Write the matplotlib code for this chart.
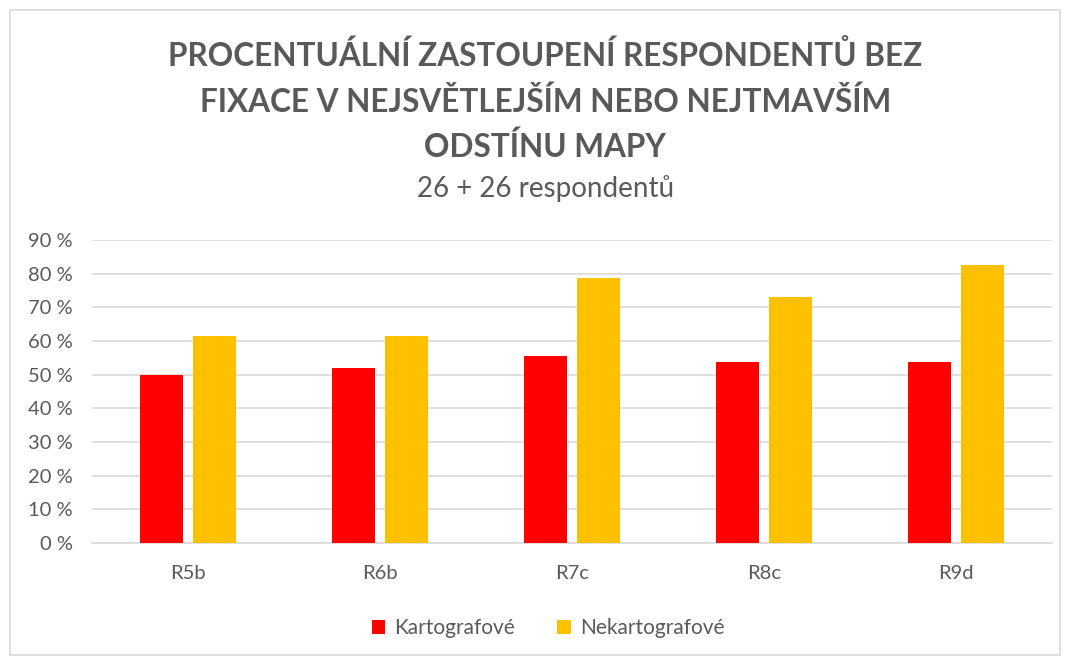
import numpy as np
import matplotlib.pyplot as plt
from matplotlib.patches import Rectangle

categories = ['R5b', 'R6b', 'R7c', 'R8c', 'R9d']
kartografove = [50.0, 51.9, 55.6, 53.8, 53.8]
nekartografove = [61.5, 61.5, 78.8, 73.1, 82.7]
yticks = list(range(0, 100, 10))

plt.rcParams['font.family'] = ['Lato', 'DejaVu Sans']
text_color = '#595959'

fig = plt.figure(figsize=(10.67, 6.60), dpi=100)
ax = fig.add_axes([92 / 1067, 1 - 543 / 660, 960 / 1067, 303 / 660])

x = np.arange(len(categories))
w = 0.224
ax.bar(x - 0.14, kartografove, w, color='#ff0000', label='Kartografové', zorder=3)
ax.bar(x + 0.14, nekartografove, w, color='#ffc000', label='Nekartografové', zorder=3)

ax.set_xlim(-0.5, len(categories) - 0.5)
ax.set_ylim(0, 90)
ax.set_yticks(yticks)
ax.set_yticklabels([f'{t} %' for t in yticks], fontsize=14.5, color=text_color)
ax.set_xticks(x)
ax.set_xticklabels(categories, fontsize=14.5, color=text_color)
ax.tick_params(axis='y', length=0, pad=14)
ax.tick_params(axis='x', length=0, pad=16)
ax.grid(axis='y', color='#d9d9d9', linewidth=1.2, zorder=0)
for side in ['top', 'right', 'left']:
    ax.spines[side].set_visible(False)
ax.spines['bottom'].set_color('#d9d9d9')
ax.spines['bottom'].set_linewidth(1.2)

fig.text(0.511, 1 - 101 / 660, 'PROCENTUÁLNÍ ZASTOUPENÍ RESPONDENTŮ BEZ\nFIXACE V NEJSVĚTLEJŠÍM NEBO NEJTMAVŠÍM\nODSTÍNU MAPY',
         ha='center', va='center', fontsize=22.7, fontweight='bold', color=text_color,
         linespacing=1.6)
fig.text(0.511, 1 - 189 / 660, '26 + 26 respondentů', ha='center', va='center',
         fontsize=20, color=text_color)

leg = fig.legend(loc='center', bbox_to_anchor=(548 / 1067, 1 - 628 / 660), ncol=2,
                 frameon=False, fontsize=15, handlelength=0.65, handleheight=0.65,
                 columnspacing=2.0, handletextpad=0.45)
for t in leg.get_texts():
    t.set_color(text_color)

fig.patches.append(Rectangle((10 / 1067, 5 / 660), 1050 / 1067, 645 / 660, fill=False,
                             edgecolor='#d9d9d9', linewidth=1.2, transform=fig.transFigure))

fig.savefig('out.png', dpi=100)
